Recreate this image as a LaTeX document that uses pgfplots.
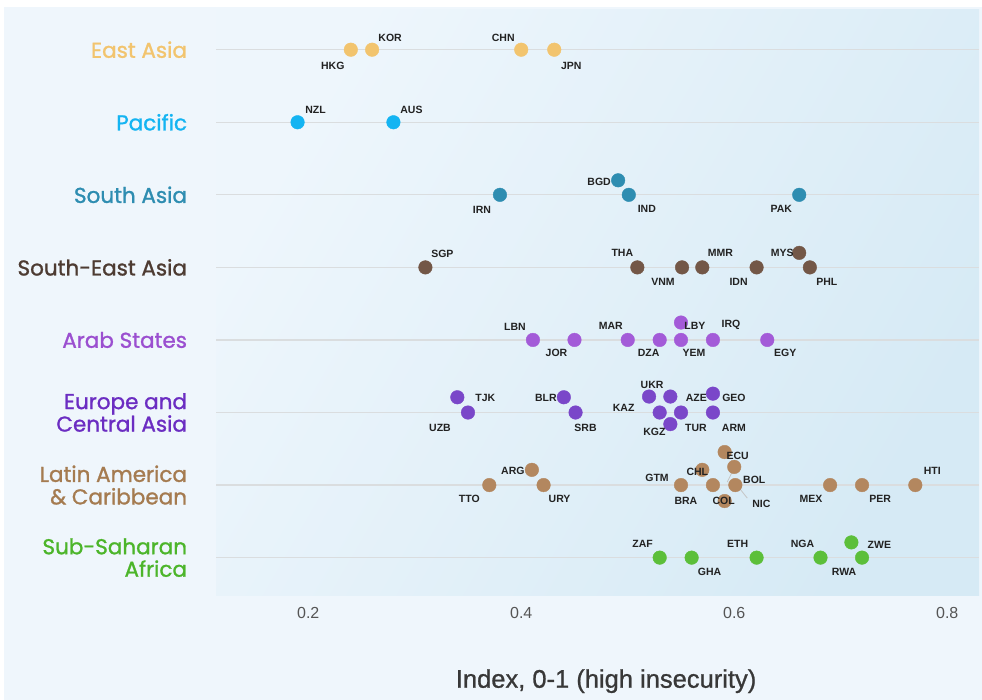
\documentclass[border=0pt]{standalone}
\usepackage{pgfplots}
\pgfplotsset{compat=1.18}
\usepackage{fontspec}
\setmainfont{Liberation Sans}
\newfontfamily\regfont{Poppins}[FakeBold=1.2]
\newfontfamily\labfont{Liberation Sans}
\newfontfamily\titfont{Liberation Sans}[FakeBold=0.9]

\definecolor{panel}{HTML}{EFF6FC}
\definecolor{bgL}{HTML}{EEF6FC}
\definecolor{bgR}{HTML}{D6EAF5}
\definecolor{gridc}{HTML}{DADDDF}
\definecolor{labc}{HTML}{222222}
\definecolor{tickc}{HTML}{555555}
\definecolor{ea}{HTML}{F2C46E}
\definecolor{pac}{HTML}{14B4F2}
\definecolor{sa}{HTML}{2E8DB1}
\definecolor{sead}{HTML}{735747}
\definecolor{seat}{HTML}{4D3B32}
\definecolor{arab}{HTML}{A35BD8}
\definecolor{arabt}{HTML}{9B4FD0}
\definecolor{eur}{HTML}{7A47C9}
\definecolor{eurt}{HTML}{6B2DC2}
\definecolor{lat}{HTML}{B3875F}
\definecolor{latt}{HTML}{A57B50}
\definecolor{ssa}{HTML}{5CBF3A}
\definecolor{ssat}{HTML}{4CB52A}

\pgfplotsset{
  dots/.style={only marks, mark=*, mark size=6.8pt, mark options={draw=none},
    nodes near coords, point meta=explicit symbolic,
    visualization depends on={value \thisrow{dx} \as \dx},
    visualization depends on={value \thisrow{dy} \as \dy},
    every node near coord/.append style={anchor=center, inner sep=0pt,
      xshift=\dx pt, yshift=\dy pt, text=labc,
      font=\labfont\bfseries\fontsize{10.5}{12}\selectfont}},
}

\begin{document}
\begin{tikzpicture}[x=1pt,y=1pt]
\useasboundingbox (0,0) rectangle (982,700);
\fill[white] (0,0) rectangle (982,700);
\fill[panel] (4,0) rectangle (982,693);
\begin{axis}[
    at={(203,144.5)}, anchor=south west, scale only axis,
    width=763pt, height=586pt,
    xmin=0.1136, xmax=0.830, ymin=-0.517, ymax=7.559,
    axis background/.style={left color=bgL, right color=bgR, shading angle=60},
    axis line style={draw=none}, major tick style={draw=none},
    xtick={0.2,0.4,0.6,0.8},
    /pgf/number format/assume math mode=true,
    xticklabel style={font=\fontsize{16}{18}\selectfont, text=tickc, inner sep=0pt, yshift=-12pt},
    ytick={0,1,2,3,4,5,6,7},
    yticklabels={
      {\textcolor{ssat}{Sub-Saharan}\\\textcolor{ssat}{Africa}},
      {\textcolor{latt}{Latin America}\\\textcolor{latt}{\& Caribbean}},
      {\textcolor{eurt}{Europe and}\\\textcolor{eurt}{Central Asia}},
      {\textcolor{arabt}{Arab States}},
      {\textcolor{seat}{South-East Asia}},
      {\textcolor{sa}{South Asia}},
      {\textcolor{pac}{Pacific}},
      {\textcolor{ea}{East Asia}}},
    yticklabel style={anchor=east, align=right, inner sep=0pt, xshift=-29pt,
      font=\regfont\fontsize{21.5}{22.5}\selectfont},
    ymajorgrids, grid style={gridc, line width=1.2pt},
    xlabel={Index, 0-1 (high insecurity)},
    xlabel style={at={(axis description cs:0.511,0)}, anchor=center, yshift=-86pt,
      font=\titfont\fontsize{25.5}{28}\selectfont, text=labc!90!white},
    clip=false,
]
% East Asia
\addplot[dots, color=ea] table[meta=lab] {
x y dx dy lab
0.240 7 -18 -16 HKG
0.260 7 18 12 KOR
0.400 7 -18 12 CHN
0.431 7 17 -16 JPN
};
% Pacific
\addplot[dots, color=pac] table[meta=lab] {
x y dx dy lab
0.190 6 18 12 NZL
0.280 6 18 12 AUS
};
% South Asia
\addplot[dots, color=sa] table[meta=lab] {
x y dx dy lab
0.380 5 -18 -15 IRN
0.491 5.2 -19 -2 BGD
0.501 5 18 -14 IND
0.661 5 -18 -14 PAK
};
% South-East Asia
\addplot[dots, color=sead] table[meta=lab] {
x y dx dy lab
0.310 4 17 14 SGP
0.509 4 -15 14 THA
0.551 4 -19 -15 VNM
0.570 4 18 14 MMR
0.621 4 -18 -15 IDN
0.661 4.2 -17 0 MYS
0.671 4 17 -15 PHL
};
% Arab States
\addplot[dots, color=arab] table[meta=lab] {
x y dx dy lab
0.411 3 -18 13 LBN
0.450 3 -18 -13 JOR
0.500 3 -17 14 MAR
0.530 3 -11 -13 DZA
0.550 3 13 -13 YEM
0.550 3.24 14 -3 LBY
0.580 3 18 15 IRQ
0.631 3 18 -13 EGY
};
% Europe and Central Asia
\addplot[dots, color=eur] table[meta=lab] {
x y dx dy lab
0.340 2.21 28 -1 TJK
0.350 2 -28 -15 UZB
0.440 2.21 -18 -1 BLR
0.451 2 10 -15 SRB
0.520 2.22 3 12 UKR
0.540 2.22 26 -1 AZE
0.530 2 -36 5 KAZ
0.550 2 15 -15 TUR
0.540 1.84 -16 -8 KGZ
0.580 2.26 21 -4 GEO
0.580 2 21 -15 ARM
};
% Latin America & Caribbean
\draw[gray!45, line width=0.8pt] (axis cs:0.598,1.179) -- (axis cs:0.5934,1.041);
\draw[gray!45, line width=0.8pt] (axis cs:0.6047,0.959) -- (axis cs:0.6122,0.821);
\addplot[dots, color=lat] table[meta=lab] {
x y dx dy lab
0.370 1 -20 -14 TTO
0.410 1.21 -19 -1 ARG
0.421 1 16 -14 URY
0.550 1 -24 7 GTM
0.570 1.21 -5 -2 CHL
0.580 1 -27 -16 BRA
0.591 1.455 13 -4 ECU
0.600 1.25 20 -13 BOL
0.601 1 26 -19 NIC
0.591 0.78 -1 0 COL
0.690 1 -19 -14 MEX
0.720 1 18 -14 PER
0.770 1 17 14 HTI
};
% Sub-Saharan Africa
\addplot[dots, color=ssa] table[meta=lab] {
x y dx dy lab
0.530 0 -17 14 ZAF
0.560 0 18 -14 GHA
0.621 0 -19 14 ETH
0.681 0 -18 14 NGA
0.710 0.21 28 -2 ZWE
0.720 0 -18 -14 RWA
};
\end{axis}
\end{tikzpicture}
\end{document}
